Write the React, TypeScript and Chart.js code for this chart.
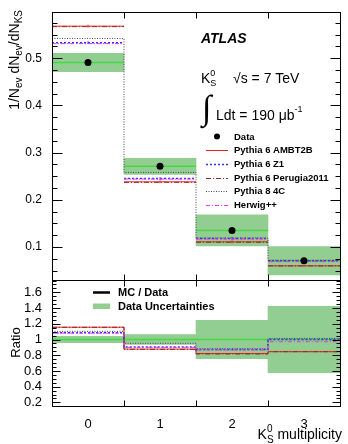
import { useEffect, useRef } from 'react';
import { Chart, registerables } from 'chart.js';

Chart.register(...registerables);

// K0S multiplicity bins
const multiplicity = [0, 1, 2, 3];
const binEdges = [-0.5, 0.5, 1.5, 2.5, 3.5];

// Measured distribution and its total uncertainty
const dataValues = [0.491, 0.271, 0.135, 0.071];
const dataErrors = [0.0195, 0.017, 0.033, 0.03];

// Generator predictions
const ambt2b = [0.568, 0.238, 0.111, 0.06];
const z1 = [0.533, 0.245, 0.118, 0.071];
const perugia2011 = [0.567, 0.237, 0.11, 0.06];
const pythia8C4 = [0.542, 0.258, 0.119, 0.072];
const herwigpp = [0.531, 0.244, 0.117, 0.069];
const ambt2bErrors = [0.003, 0.003, 0.003, 0.002];
const z1Errors = [0.003, 0.003, 0.003, 0.002];

// Axis ticks
const mainTicks = [0.1, 0.2, 0.3, 0.4, 0.5];
const mainTickLabels = ['0.1', '0.2', '0.3', '0.4', '0.5'];
const ratioTicks = [0.2, 0.4, 0.6, 0.8, 1, 1.2, 1.4, 1.6];
const ratioTickLabels = ['0.2', '0.4', '0.6', '0.8', '1', '1.2', '1.4', '1.6'];
const xTickLabels = ['0', '1', '2', '3'];

const FONT = '"Liberation Sans", Arial, Helvetica, sans-serif';
const SERIF = '"Liberation Serif", "DejaVu Serif", serif';
const BAND = 'rgb(146, 205, 146)';
const BAND_LINE = 'rgb(70, 215, 70)';

type Model = {
  label: string;
  values: number[];
  color: string;
  dash: number[];
  width: number;
  histo: boolean;
  errors?: number[];
};

const models: Model[] = [
  { label: 'Pythia 6 AMBT2B', values: ambt2b, color: 'rgb(232, 32, 32)', dash: [], width: 1, histo: false, errors: ambt2bErrors },
  { label: 'Pythia 6 Z1', values: z1, color: 'rgb(50, 50, 255)', dash: [2, 2], width: 1.5, histo: false, errors: z1Errors },
  { label: 'Pythia 6 Perugia2011', values: perugia2011, color: 'rgb(150, 40, 40)', dash: [5, 2, 1, 2], width: 1, histo: false },
  { label: 'Pythia 8 4C', values: pythia8C4, color: 'rgb(70, 70, 70)', dash: [1, 1.5], width: 1, histo: true },
  { label: 'Herwig++', values: herwigpp, color: 'rgb(250, 40, 250)', dash: [4, 2, 1, 2], width: 1, histo: false },
];

type Pt = { x: number; y: number | null };

// horizontal bar per bin, no vertical connections
const segments = (vals: number[]): Pt[] =>
  vals.flatMap((v, i) => [
    { x: binEdges[i], y: v },
    { x: binEdges[i + 1], y: v },
    { x: binEdges[i + 1], y: null },
  ]);

// histogram outline with vertical steps at the bin edges
const steps = (vals: number[]): Pt[] => [
  ...vals.map((v, i) => ({ x: binEdges[i], y: v })),
  { x: binEdges[vals.length], y: vals[vals.length - 1] },
];

const errorBars = (vals: number[], errs: number[]): Pt[] =>
  vals.flatMap((v, i) => [
    { x: multiplicity[i], y: v - errs[i] },
    { x: multiplicity[i], y: v + errs[i] },
    { x: multiplicity[i], y: null },
  ]);

type Run = { t: string; size: number; dy?: number; weight?: string; style?: string; keep?: boolean };

function setFont(ctx: CanvasRenderingContext2D, r: Run) {
  ctx.font = `${r.style || 'normal'} ${r.weight || 'normal'} ${r.size}px ${FONT}`;
}

function runsWidth(ctx: CanvasRenderingContext2D, runs: Run[]) {
  let w = 0;
  for (const r of runs) {
    setFont(ctx, r);
    if (!r.keep) w += ctx.measureText(r.t).width;
  }
  return w;
}

function drawRuns(ctx: CanvasRenderingContext2D, x: number, y: number, runs: Run[], align: 'left' | 'right' | 'center' = 'left') {
  const total = runsWidth(ctx, runs);
  let cx = align === 'left' ? x : align === 'right' ? x - total : x - total / 2;
  ctx.textAlign = 'left';
  for (const r of runs) {
    setFont(ctx, r);
    ctx.fillText(r.t, cx, y + (r.dy || 0));
    if (!r.keep) cx += ctx.measureText(r.t).width;
  }
}

const lineDataset = (data: Pt[], color: string, width: number, dash: number[], order: number, stepped = false) => ({
  type: 'line' as const,
  data,
  borderColor: color,
  borderWidth: width,
  borderDash: dash,
  pointRadius: 0,
  fill: false,
  tension: 0,
  stepped,
  spanGaps: false,
  order,
});

const bandDataset = (lo: number[], hi: number[]) => ({
  type: 'bar' as const,
  data: multiplicity.map((x, i) => ({ x, y: [lo[i], hi[i]] })),
  backgroundColor: BAND,
  borderWidth: 0,
  barPercentage: 1,
  categoryPercentage: 1,
  order: 30,
});

function axisFrame(majors: number[], minorStep: number, majorLen: number, minorLen: number, edgeLen: number) {
  return {
    id: 'axisFrame',
    afterDatasetsDraw(chart: Chart) {
      const { ctx, chartArea: a } = chart;
      const xs = chart.scales.x;
      const ys = chart.scales.y;
      const L = Math.round(a.left) + 0.5;
      const R = Math.round(a.right) + 0.5;
      const T = Math.round(a.top) + 0.5;
      const B = Math.round(a.bottom) + 0.5;
      ctx.save();
      ctx.strokeStyle = '#000';
      ctx.lineWidth = 1;
      ctx.setLineDash([]);
      ctx.strokeRect(L, T, R - L, B - T);
      ctx.beginPath();
      const tick = (v: number, len: number) => {
        const p = Math.round(ys.getPixelForValue(v)) + 0.5;
        ctx.moveTo(L, p);
        ctx.lineTo(L + len, p);
        ctx.moveTo(R, p);
        ctx.lineTo(R - len, p);
      };
      majors.forEach((v) => tick(v, majorLen));
      for (let k = Math.ceil(ys.min / minorStep); k * minorStep <= ys.max; k++) {
        const v = k * minorStep;
        if (!majors.some((m) => Math.abs(m - v) < 1e-6)) tick(v, minorLen);
      }
      binEdges.slice(1, -1).forEach((e) => {
        const p = Math.round(xs.getPixelForValue(e)) + 0.5;
        ctx.moveTo(p, T);
        ctx.lineTo(p, T + edgeLen);
        ctx.moveTo(p, B);
        ctx.lineTo(p, B - edgeLen);
      });
      ctx.stroke();
      ctx.restore();
    },
  };
}

const mainText = {
  id: 'mainText',
  afterDraw(chart: Chart) {
    const ctx = chart.ctx;
    ctx.save();
    ctx.fillStyle = '#000';
    ctx.textBaseline = 'alphabetic';

    drawRuns(ctx, 201, 43, [{ t: 'ATLAS', size: 14, weight: 'bold', style: 'italic' }]);
    drawRuns(ctx, 201, 83, [
      { t: 'K', size: 14 },
      { t: '0', size: 9, dy: -7, keep: true },
      { t: 'S', size: 9, dy: 3 },
    ]);
    drawRuns(ctx, 233, 83, [{ t: '√s = 7 TeV', size: 14 }]);

    // integral sign, scaled to span the luminosity line
    ctx.font = `100px ${SERIF}`;
    const m = ctx.measureText('∫');
    const h = m.actualBoundingBoxAscent + m.actualBoundingBoxDescent;
    const size = (100 * 34) / h;
    ctx.font = `${size}px ${SERIF}`;
    const m2 = ctx.measureText('∫');
    ctx.textAlign = 'left';
    ctx.fillText('∫', 200 + m2.actualBoundingBoxLeft, 94 + m2.actualBoundingBoxAscent);
    drawRuns(ctx, 216, 120, [
      { t: 'Ldt = 190 μb', size: 14 },
      { t: '-1', size: 9, dy: -8 },
    ]);

    // legend
    const rowY = (i: number) => 136.5 + 13.7 * i;
    ctx.textBaseline = 'middle';
    ctx.beginPath();
    ctx.arc(217, rowY(0), 3, 0, Math.PI * 2);
    ctx.fill();
    drawRuns(ctx, 234, rowY(0) + 0.5, [{ t: 'Data', size: 9.5, weight: 'bold' }]);
    models.forEach((md, i) => {
      const y = Math.round(rowY(i + 1)) + 0.5;
      ctx.strokeStyle = md.color;
      ctx.lineWidth = md.width;
      ctx.setLineDash(md.dash);
      ctx.beginPath();
      ctx.moveTo(206, y);
      ctx.lineTo(228, y);
      ctx.stroke();
      ctx.setLineDash([]);
      drawRuns(ctx, 234, rowY(i + 1) + 0.5, [{ t: md.label, size: 9.5, weight: 'bold' }]);
    });

    // y-axis title
    ctx.textBaseline = 'alphabetic';
    ctx.translate(19, 10);
    ctx.rotate(-Math.PI / 2);
    drawRuns(
      ctx,
      0,
      0,
      [
        { t: '1/N', size: 14 },
        { t: 'ev', size: 10, dy: 3 },
        { t: ' dN', size: 14 },
        { t: 'ev', size: 10, dy: 3 },
        { t: '/dN', size: 14 },
        { t: 'KS', size: 10, dy: 3 },
      ],
      'right',
    );
    ctx.restore();
  },
};

const ratioText = {
  id: 'ratioText',
  afterDraw(chart: Chart) {
    const ctx = chart.ctx;
    ctx.save();
    ctx.fillStyle = '#000';
    ctx.strokeStyle = '#000';
    ctx.lineWidth = 2.5;
    ctx.beginPath();
    ctx.moveTo(93, 292.5);
    ctx.lineTo(110, 292.5);
    ctx.stroke();
    ctx.fillStyle = BAND;
    ctx.fillRect(93, 303.5, 17, 5.5);
    ctx.fillStyle = '#000';
    ctx.textBaseline = 'middle';
    drawRuns(ctx, 118, 293, [{ t: 'MC / Data', size: 11, weight: 'bold' }]);
    drawRuns(ctx, 118, 307, [{ t: 'Data Uncertainties', size: 11, weight: 'bold' }]);

    ctx.textBaseline = 'alphabetic';
    drawRuns(ctx, 342, 439, [
      { t: 'K', size: 14 },
      { t: '0', size: 10, dy: -7, keep: true },
      { t: 'S', size: 10, dy: 4 },
      { t: ' multiplicity', size: 14 },
    ], 'right');

    ctx.translate(19.5, 342.5);
    ctx.rotate(-Math.PI / 2);
    drawRuns(ctx, 0, 0, [{ t: 'Ratio', size: 13 }], 'center');
    ctx.restore();
  },
};

const ratio = (vals: number[]) => vals.map((v, i) => v / dataValues[i]);

export default function App() {
  const topRef = useRef<HTMLCanvasElement>(null);
  const ratioRef = useRef<HTMLCanvasElement>(null);

  useEffect(() => {
    if (!topRef.current || !ratioRef.current) return;

    const xScale = (display: boolean) => ({
      type: 'linear' as const,
      min: -0.5,
      max: 3.5,
      offset: false,
      display,
      grid: { display: false },
      border: { display: false },
      afterBuildTicks: (axis: any) => {
        axis.ticks = multiplicity.map((v) => ({ value: v }));
      },
      afterFit: (axis: any) => {
        if (display) axis.height = 38;
      },
      ticks: {
        autoSkip: false,
        maxRotation: 0,
        padding: 3,
        color: '#000',
        font: { family: FONT, size: 13 },
        callback: (_v: any, i: number) => xTickLabels[i],
      },
    });

    const topDatasets: any[] = [
      bandDataset(
        dataValues.map((v, i) => v - dataErrors[i]),
        dataValues.map((v, i) => v + dataErrors[i]),
      ),
      lineDataset(segments(dataValues), BAND_LINE, 1.5, [], 25),
    ];
    models.forEach((md, i) => {
      topDatasets.push(
        lineDataset(md.histo ? steps(md.values) : segments(md.values), md.color, md.width, md.dash, 20 - i, md.histo),
      );
      if (md.errors) topDatasets.push(lineDataset(errorBars(md.values, md.errors), md.color, 1, [], 20 - i));
    });
    topDatasets.push({
      type: 'line',
      data: multiplicity.map((x, i) => ({ x, y: dataValues[i] })),
      showLine: false,
      pointRadius: 3.5,
      pointBackgroundColor: '#000',
      pointBorderWidth: 0,
      order: 0,
    });

    const top = new Chart(topRef.current, {
      type: 'line',
      data: { datasets: topDatasets },
      options: {
        animation: false,
        responsive: false,
        events: [],
        layout: { padding: { left: 0, top: 12, right: 8, bottom: 164 } },
        plugins: { legend: { display: false }, tooltip: { enabled: false } },
        scales: {
          x: xScale(false),
          y: {
            type: 'linear',
            min: 0.03,
            max: 0.598,
            grid: { display: false },
            border: { display: false },
            afterBuildTicks: (axis: any) => {
              axis.ticks = mainTicks.map((v) => ({ value: v }));
            },
            afterFit: (axis: any) => {
              axis.width = 52;
            },
            ticks: {
              autoSkip: false,
              padding: 2,
              color: '#000',
              font: { family: FONT, size: 12 },
              callback: (_v: any, i: number) => mainTickLabels[i],
            },
          },
        },
      },
      plugins: [axisFrame(mainTicks, 0.025, 10, 5, 6), mainText],
    } as any);

    const dataRel = dataErrors.map((e, i) => e / dataValues[i]);
    const ratioDatasets: any[] = [
      bandDataset(
        dataRel.map((r) => 1 - r),
        dataRel.map((r) => 1 + r),
      ),
      lineDataset(steps(ratio(dataValues)), BAND_LINE, 1.5, [], 25),
    ];
    models.forEach((md, i) => {
      ratioDatasets.push(lineDataset(steps(ratio(md.values)), md.color, md.width, md.dash, 20 - i, true));
    });

    const bottom = new Chart(ratioRef.current, {
      type: 'line',
      data: { datasets: ratioDatasets },
      options: {
        animation: false,
        responsive: false,
        events: [],
        layout: { padding: { left: 0, top: 280, right: 8, bottom: 0 } },
        plugins: { legend: { display: false }, tooltip: { enabled: false } },
        scales: {
          x: xScale(true),
          y: {
            type: 'linear',
            min: 0.154,
            max: 1.757,
            grid: { display: false },
            border: { display: false },
            afterBuildTicks: (axis: any) => {
              axis.ticks = ratioTicks.map((v) => ({ value: v }));
            },
            afterFit: (axis: any) => {
              axis.width = 52;
            },
            ticks: {
              autoSkip: false,
              padding: 2,
              color: '#000',
              font: { family: FONT, size: 13 },
              callback: (_v: any, i: number) => ratioTickLabels[i],
            },
          },
        },
      },
      plugins: [axisFrame(ratioTicks, 0.05, 8, 4, 6), ratioText],
    } as any);

    return () => {
      top.destroy();
      bottom.destroy();
    };
  }, []);

  const canvasStyle = { position: 'absolute' as const, left: 0, top: 0 };
  return (
    <div style={{ position: 'fixed', left: 0, top: 0, width: 348, height: 444, background: '#fff' }}>
      <canvas ref={topRef} width={348} height={444} style={canvasStyle} />
      <canvas ref={ratioRef} width={348} height={444} style={canvasStyle} />
    </div>
  );
}
